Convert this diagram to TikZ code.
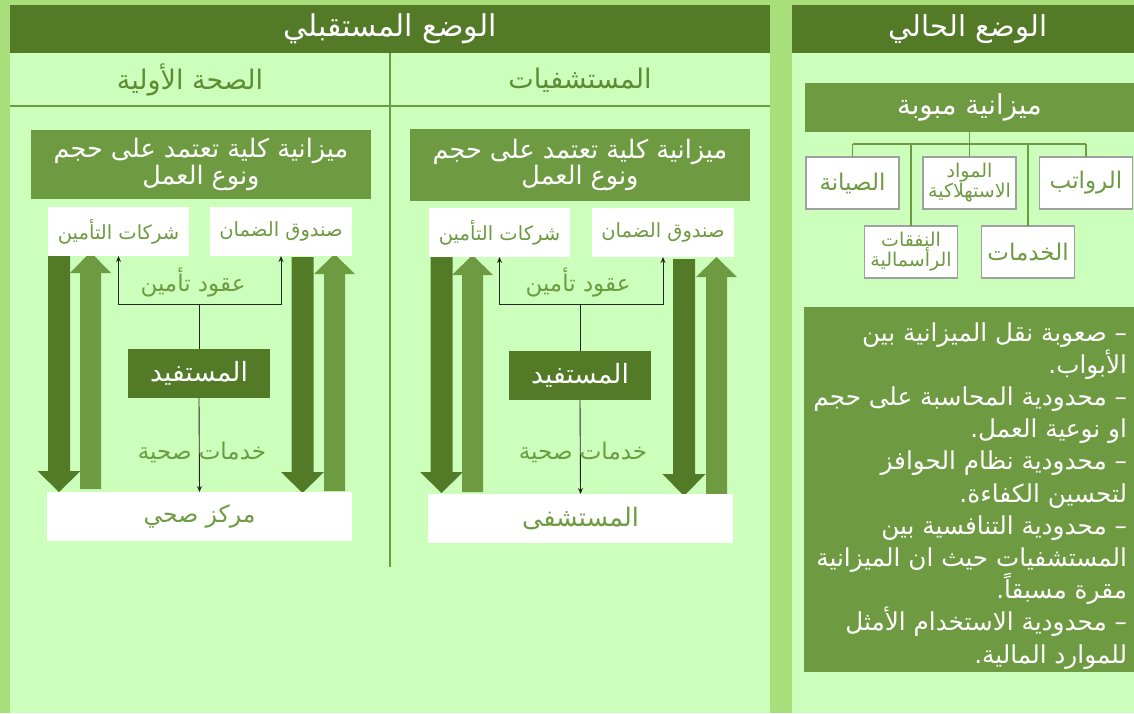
\documentclass[tikz,border=0pt]{standalone}
\usepackage{fontspec}
\newfontfamily\arabicfont[Script=Arabic]{DejaVu Sans}
\TeXXeTstate=1
\usetikzlibrary{arrows.meta}
\definecolor{outerG}{HTML}{A9DF7B}
\definecolor{paneG}{HTML}{CCFFBB}
\definecolor{darkG}{HTML}{537A27}
\definecolor{midG}{HTML}{6E9B42}
\definecolor{txtG}{HTML}{5F8C33}
\definecolor{boxGray}{HTML}{A0A0A0}
\newcommand\ART[1]{\beginR#1\endR}
\newcommand\fs[2]{\fontsize{#1}{#2}\selectfont}
% down block arrow: cx, top, headtop, tip
\newcommand\blkdown[4]{\fill[darkG] ({#1-11},#2) -- ({#1+11},#2) -- ({#1+11},#3) -- ({#1+21.5},#3) -- (#1,#4) -- ({#1-21.5},#3) -- ({#1-11},#3) -- cycle;}
% up block arrow: cx, bottom, base, tip
\newcommand\blkup[4]{\fill[midG] ({#1-10.5},#2) -- ({#1+10.5},#2) -- ({#1+10.5},#3) -- ({#1+20.5},#3) -- (#1,#4) -- ({#1-20.5},#3) -- ({#1-10.5},#3) -- cycle;}
\begin{document}
\begin{tikzpicture}[x=1pt,y=-1pt,
  every node/.style={inner sep=0pt, outer sep=0pt},
  hdr/.style={fill=darkG, text=white, font=\arabicfont\fs{30}{34}},
  sub/.style={text=txtG, font=\arabicfont\fs{27}{30}},
  bigbox/.style={fill=midG, text=white, font=\arabicfont\fs{25.5}{24}, align=center},
  wbox/.style={fill=white, text=midG, font=\arabicfont\fs{19.5}{22}},
  benbox/.style={fill=darkG, text=white, font=\arabicfont\fs{26.5}{30}},
  lbl/.style={text=midG, font=\arabicfont\fs{23}{26}},
  conn/.style={line width=0.9pt, draw=black!85},
  tip/.style={-{Stealth[length=6pt,width=5pt]}},
  tbox/.style={fill=white, draw=boxGray, line width=1.3pt, text=midG, font=\arabicfont\fs{23}{26}, minimum width=93, minimum height=52},
  tsmall/.style={font=\arabicfont\fs{19}{18}, align=center},
  tline/.style={draw=midG, line width=1.5pt},
  bul/.style={text=white, font=\arabicfont\fs{24.7}{28}, anchor=base east},
]
\fill[outerG] (0,0) rectangle (1134,713);
\useasboundingbox (0,0) rectangle (1134,713);
\fill[paneG] (10,5) rectangle (770,713);
\fill[paneG] (792,5) rectangle (1134,713);

% ===== headers =====
\node[hdr, minimum width=760, minimum height=48] (hF) at (390,29) {\ART{الوضع المستقبلي}};
\fill[darkG] (792,5) rectangle (1134,53);
\node[text=white, font=\arabicfont\fs{29}{32}] (hC) at (968,29) {\ART{الوضع الحالي}};

% dividers
\draw[midG, line width=2pt] (10,106) -- (770,106);
\draw[midG, line width=2pt] (390,53) -- (390,567);

\node[sub] (sP) at (190,80) {\ART{الصحة الأولية}};
\node[sub] (sH) at (580,80) {\ART{المستشفيات}};

% ===== block arrows (primary health) =====
\blkdown{59}{255}{471}{492}
\blkup{90.5}{489}{273}{252}
\blkdown{302.5}{257}{472}{493}
\blkup{334.5}{491}{274}{254}
% ===== block arrows (hospitals) =====
\blkdown{441.5}{256}{472}{493}
\blkup{472.5}{492}{275}{255}
\blkdown{684}{259}{474}{496}
\blkup{716.5}{494}{277}{257}

% ===== primary health column =====
\node[bigbox, minimum width=340, minimum height=69] (topP) at (201,164.5)
  {\ART{ميزانية كلية تعتمد على حجم}\\\ART{ونوع العمل}};
\node[wbox, minimum width=141, minimum height=49] (insP) at (118.5,231.5) {\ART{شركات التأمين}};
\node[wbox, minimum width=142, minimum height=49] (fundP) at (281,231.5) {\ART{صندوق الضمان}};
\node[benbox, minimum width=142, minimum height=49] (benP) at (199,373.5) {\ART{المستفيد}};
\node[wbox, font=\arabicfont\fs{23.5}{26}, minimum width=305, minimum height=49] (cenP) at (199.5,516.5) {\ART{مركز صحي}};
\node[lbl] (contP) at (193,282) {\ART{عقود تأمين}};
\node[lbl] (servP) at (202,452) {\ART{خدمات صحية}};
\coordinate (jP) at (199,304);
\draw[conn] (benP.north) -- (jP);
\draw[conn, tip] (jP) -| (insP.south);
\draw[conn, tip] (jP) -| (fundP.south);
\draw[conn, tip] (benP.south) -- (cenP.north);

% ===== hospitals column =====
\node[bigbox, minimum width=340, minimum height=72] (topH) at (580,165)
  {\ART{ميزانية كلية تعتمد على حجم}\\\ART{ونوع العمل}};
\node[wbox, minimum width=141, minimum height=49] (insH) at (499.5,232.5) {\ART{شركات التأمين}};
\node[wbox, minimum width=142, minimum height=49] (fundH) at (663,232.5) {\ART{صندوق الضمان}};
\node[benbox, minimum width=142, minimum height=49] (benH) at (580,375.5) {\ART{المستفيد}};
\node[wbox, font=\arabicfont\fs{25.5}{28}, minimum width=305, minimum height=49] (hosH) at (580.5,518.5) {\ART{المستشفى}};
\node[lbl] (contH) at (578,282) {\ART{عقود تأمين}};
\node[lbl] (servH) at (583,452) {\ART{خدمات صحية}};
\coordinate (jH) at (580,304);
\draw[conn] (benH.north) -- (jH);
\draw[conn, tip] (jH) -| (insH.south);
\draw[conn, tip] (jH) -| (fundH.south);
\draw[conn, tip] (benH.south) -- (hosH.north);

% ===== current situation =====
\node[fill=midG, text=white, font=\arabicfont\fs{27.5}{30}, minimum width=329, minimum height=49] (bud) at (969.5,107.5) {\ART{ميزانية مبوبة}};
\node[tbox] (sal) at (1086,183) {\ART{الرواتب}};
\node[tbox, tsmall] (cons) at (969.5,183) {\ART{المواد}\\\ART{الاستهلاكية}};
\node[tbox] (mnt) at (852.5,183) {\ART{الصيانة}};
\node[tbox, tsmall] (capx) at (911,252) {\ART{النفقات}\\\ART{الرأسمالية}};
\node[tbox] (srv) at (1028,252) {\ART{الخدمات}};
\coordinate (tj) at (969.5,144);
\draw[tline] (bud.south) -- (tj);
\draw[tline] (mnt.north |- tj) -- (sal.north |- tj);
\draw[tline] (mnt.north |- tj) -- (mnt.north);
\draw[tline] (cons.north |- tj) -- (cons.north);
\draw[tline] (sal.north |- tj) -- (sal.north);
\draw[tline] (capx.north |- tj) -- (capx.north);
\draw[tline] (srv.north |- tj) -- (srv.north);

\fill[midG] (804,307) rectangle (1134,672);
\node[bul] (b1) at (1127,341) {\ART{– صعوبة نقل الميزانية بين}};
\node[bul] (b2) at (1127,373.2) {\ART{الأبواب.}};
\node[bul] (b3) at (1127,405.4) {\ART{– محدودية المحاسبة على حجم}};
\node[bul] (b4) at (1127,437.6) {\ART{او نوعية العمل.}};
\node[bul] (b5) at (1127,469.8) {\ART{– محدودية نظام الحوافز}};
\node[bul] (b6) at (1127,502) {\ART{لتحسين الكفاءة.}};
\node[bul] (b7) at (1127,534.2) {\ART{– محدودية التنافسية بين}};
\node[bul] (b8) at (1127,566.4) {\ART{المستشفيات حيث ان الميزانية}};
\node[bul] (b9) at (1127,598.6) {\ART{مقرة مسبقاً.}};
\node[bul] (b10) at (1127,630.8) {\ART{– محدودية الاستخدام الأمثل}};
\node[bul] (b11) at (1127,663) {\ART{للموارد المالية.}};
\end{tikzpicture}
\end{document}
